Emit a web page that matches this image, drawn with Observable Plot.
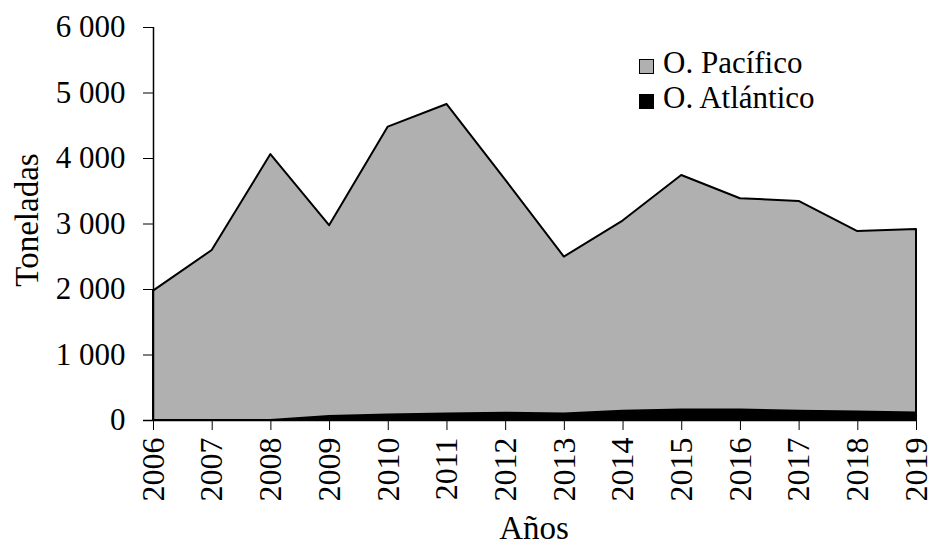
<!DOCTYPE html>
<html><head><meta charset="utf-8">
<script src="https://cdn.jsdelivr.net/npm/d3@7"></script>
<script src="https://cdn.jsdelivr.net/npm/@observablehq/plot@0.6"></script>
<style>
body{margin:0;background:#fff;}
#wrap{position:relative;width:929px;height:546px;font-family:"Liberation Serif","Times New Roman",serif;}
#wrap svg text{font-family:"Liberation Serif","Times New Roman",serif;}
.leg{position:absolute;left:639px;font-size:31px;color:#000;display:flex;align-items:flex-start;line-height:1;white-space:nowrap;}
.sw{width:13px;height:13px;border:1px solid #000;margin-right:9px;margin-top:12px;display:inline-block;flex:none;}
.ttl{position:absolute;font-size:33px;color:#000;line-height:1;white-space:nowrap;}
</style></head><body>
<div id="wrap"></div>
<script>
const years = [2006,2007,2008,2009,2010,2011,2012,2013,2014,2015,2016,2017,2018,2019];
const atlantico = [0,0,0,60,85,100,110,100,140,160,160,140,130,115];
const pacifico = [1975,2595,4060,2915,4395,4725,3560,2395,2905,3580,3225,3205,2755,2800];
const series = ["O. Atlántico","O. Pacífico"];
const colors = ["#000000","#b0b0b0"];
const yTicks = [0,1000,2000,3000,4000,5000,6000];
const xTitle = "Años", yTitle = "Toneladas";

const rows = [];
years.forEach((y,i)=>rows.push({year:y,serie:series[0],value:atlantico[i]}));
years.forEach((y,i)=>rows.push({year:y,serie:series[1],value:pacifico[i]}));

const fmt = v => d3.format(",")(v).replace(/,/g," ");

const chart = Plot.plot({
  width:929,height:546,
  marginLeft:153,marginRight:13,marginTop:27,marginBottom:126,
  style:{fontFamily:"'Liberation Serif', 'Times New Roman', serif",fontSize:"31px",color:"#000",background:"#fff",overflow:"visible"},
  x:{domain:[2006,2019],ticks:years,tickFormat:"d",tickRotate:-90,tickSize:10,tickPadding:7,label:null},
  y:{domain:[0,6000],ticks:yTicks,tickFormat:fmt,tickSize:10,tickPadding:18,label:null},
  color:{domain:series,range:colors},
  marks:[
    Plot.areaY(rows,Plot.stackY({x:"year",y:"value",z:"serie",fill:"serie",stroke:"#000",strokeWidth:2,order:null})),
    Plot.ruleX([2006],{y1:0,y2:6000,stroke:"#000",strokeWidth:1.5}),
    Plot.ruleY([0],{x1:2006,x2:2019,stroke:"#000",strokeWidth:1.5,insetLeft:-10})
  ]
});
chart.querySelectorAll('[aria-label="x-axis tick label"] text').forEach(t=>t.style.fontSize="32px");
document.getElementById("wrap").appendChild(chart);

const w = document.getElementById("wrap");
[[series[1],colors[1],47],[series[0],colors[0],82]].forEach(([name,col,top])=>{
  const d=document.createElement("div");d.className="leg";d.style.top=top+"px";
  const s=document.createElement("span");s.className="sw";s.style.background=col;
  d.appendChild(s);d.appendChild(document.createTextNode(name));w.appendChild(d);
});
const xt=document.createElement("div");xt.className="ttl";xt.textContent=xTitle;
xt.style.left="534px";xt.style.top="512px";xt.style.transform="translateX(-50%)";w.appendChild(xt);
const yt=document.createElement("div");yt.className="ttl";yt.textContent=yTitle;
yt.style.left="27px";yt.style.top="220px";yt.style.transform="translate(-50%,-50%) rotate(-90deg)";w.appendChild(yt);
</script></body></html>
